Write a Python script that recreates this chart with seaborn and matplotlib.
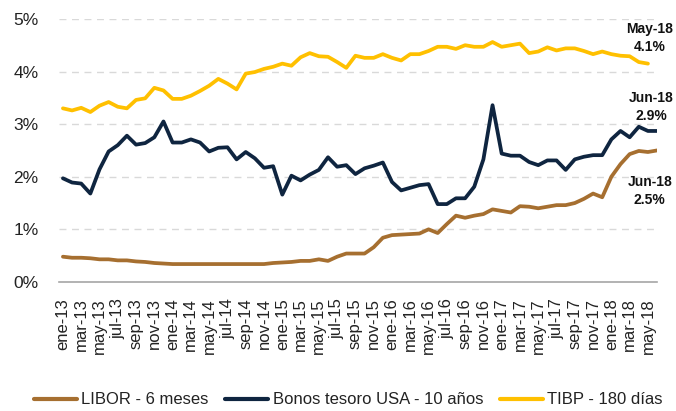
import numpy as np
import pandas as pd
import matplotlib
matplotlib.use("Agg")
import matplotlib.pyplot as plt
import seaborn as sns

# monthly tick labels ene-13 ... may-18 (every 2 months)
meses = ['ene', 'feb', 'mar', 'abr', 'may', 'jun', 'jul', 'ago', 'sep', 'oct', 'nov', 'dic']
months = [f'{m}-{y}' for y in range(13, 19) for m in meses][:66]   # ene-13 .. jun-18
tick_labels = months[0:65:2]

# LIBOR 6 meses (%), ene-13 .. jun-18
libor = [0.48, 0.46, 0.46, 0.45, 0.43, 0.43, 0.41, 0.41, 0.39, 0.38,
         0.36, 0.35, 0.34, 0.34, 0.34, 0.34, 0.34, 0.34, 0.34, 0.34,
         0.34, 0.34, 0.34, 0.36, 0.37, 0.38, 0.40, 0.40, 0.43, 0.40,
         0.48, 0.54, 0.54, 0.54, 0.66, 0.84, 0.89, 0.90, 0.91, 0.92,
         1.00, 0.93, 1.10, 1.26, 1.22, 1.26, 1.29, 1.38, 1.35, 1.32,
         1.44, 1.43, 1.40, 1.43, 1.46, 1.46, 1.50, 1.58, 1.68, 1.61,
         2.00, 2.24, 2.43, 2.49, 2.47, 2.50]

# Bonos tesoro USA 10 años (%), ene-13 .. jun-18
bonos = [1.97, 1.89, 1.87, 1.68, 2.14, 2.48, 2.60, 2.78, 2.61, 2.64,
         2.75, 3.05, 2.65, 2.65, 2.71, 2.65, 2.48, 2.55, 2.56, 2.33,
         2.47, 2.35, 2.17, 2.20, 1.66, 2.02, 1.93, 2.04, 2.13, 2.37,
         2.19, 2.22, 2.05, 2.16, 2.21, 2.27, 1.90, 1.74, 1.79, 1.84,
         1.86, 1.48, 1.48, 1.59, 1.59, 1.81, 2.33, 3.36, 2.44, 2.40,
         2.40, 2.28, 2.22, 2.31, 2.31, 2.13, 2.33, 2.38, 2.41, 2.41,
         2.71, 2.87, 2.75, 2.95, 2.87, 2.87]

# TIBP 180 días (%), ene-13 .. may-18
tibp = [3.30, 3.26, 3.31, 3.23, 3.35, 3.42, 3.33, 3.30, 3.46, 3.49,
        3.69, 3.64, 3.48, 3.48, 3.54, 3.63, 3.73, 3.86, 3.77, 3.66,
        3.96, 3.99, 4.05, 4.09, 4.15, 4.11, 4.27, 4.35, 4.29, 4.28,
        4.18, 4.07, 4.30, 4.26, 4.26, 4.33, 4.26, 4.21, 4.33, 4.33,
        4.39, 4.47, 4.47, 4.43, 4.50, 4.47, 4.47, 4.56, 4.47, 4.50,
        4.53, 4.35, 4.38, 4.46, 4.40, 4.44, 4.44, 4.39, 4.33, 4.38,
        4.33, 4.30, 4.29, 4.18, 4.15]

series_names = ['LIBOR - 6 meses', 'Bonos tesoro USA - 10 años', 'TIBP - 180 días']
colors = ['#A66F30', '#0F2540', '#FFC000']

# end labels
end_labels = ['Jun-18\n2.5%', 'Jun-18\n2.9%', 'May-18\n4.1%']

# long format table for seaborn
df = pd.concat([
    pd.DataFrame({'mes': np.arange(len(libor)), 'valor': libor, 'serie': series_names[0]}),
    pd.DataFrame({'mes': np.arange(len(bonos)), 'valor': bonos, 'serie': series_names[1]}),
    pd.DataFrame({'mes': np.arange(len(tibp)), 'valor': tibp, 'serie': series_names[2]}),
])

sns.set_style('white')
plt.rcParams['font.family'] = ['Liberation Sans', 'DejaVu Sans']

fig = plt.figure(figsize=(6.76, 4.11), dpi=100)
ax = fig.add_axes([0.087, 0.314, 0.885, 0.640])

sns.lineplot(data=df, x='mes', y='valor', hue='serie', palette=colors,
             hue_order=series_names, linewidth=2.7, ax=ax, legend=False)

ax.set_xlim(-0.45, 65.0)
ax.set_ylim(0, 5)
ax.set_yticks(range(0, 6))
ax.set_yticklabels([f'{v}%' for v in range(0, 6)])
ax.set_xticks(range(0, 65, 2))
ax.set_xticklabels(tick_labels, rotation=90)
ax.set_xlabel('')
ax.set_ylabel('')

for v in range(1, 6):
    ax.axhline(v, color='#D9D9D9', linewidth=1.0, linestyle=(0, (5, 4)), zorder=0)

for s in ['top', 'right', 'left']:
    ax.spines[s].set_visible(False)
ax.spines['bottom'].set_color('#A6A6A6')
ax.spines['bottom'].set_linewidth(1.2)

ax.tick_params(axis='y', length=0, pad=14.5, labelsize=12.5, labelcolor='#222222')
ax.tick_params(axis='x', length=0, pad=11.5, labelsize=12, labelcolor='#222222')

# end-of-series labels
ax.text(64.2, 1.73, end_labels[0], ha='center', va='center', fontsize=10,
        fontweight='bold', linespacing=1.4, color='#111111', clip_on=False)
ax.text(64.4, 3.32, end_labels[1], ha='center', va='center', fontsize=10,
        fontweight='bold', linespacing=1.4, color='#111111', clip_on=False)
ax.text(64.2, 4.64, end_labels[2], ha='center', va='center', fontsize=10,
        fontweight='bold', linespacing=1.4, color='#111111', clip_on=False)

handles = [plt.Line2D([], [], color=c, linewidth=3) for c in colors]
fig.legend(handles, series_names, loc='center', bbox_to_anchor=(0.515, 0.027),
           ncol=3, frameon=False, fontsize=12, handlelength=2.6,
           handletextpad=0.25, columnspacing=1.0, labelcolor='#222222')

fig.savefig('out.png', dpi=100)
